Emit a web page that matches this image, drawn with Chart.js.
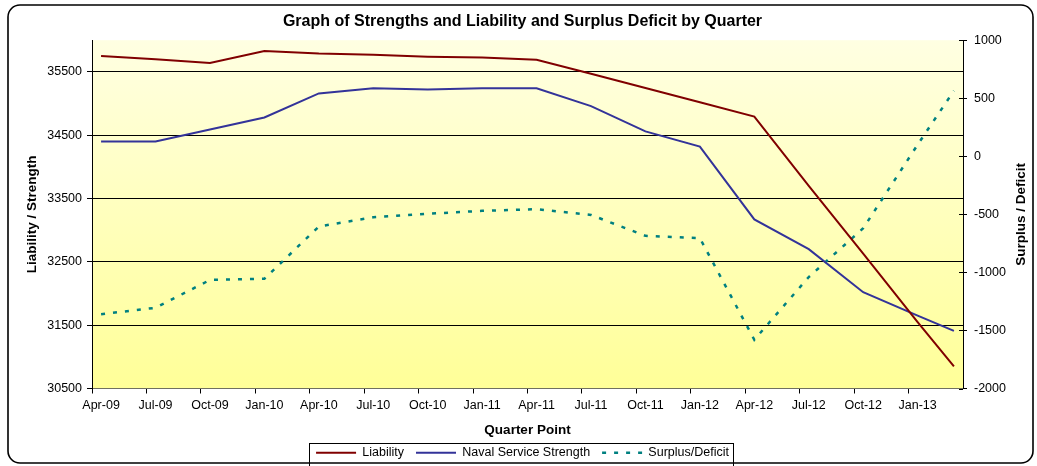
<!DOCTYPE html>
<html>
<head>
<meta charset="utf-8">
<script src="https://cdn.jsdelivr.net/npm/chart.js@4.4.1/dist/chart.umd.min.js"></script>
<style>
  html, body { margin: 0; padding: 0; background: #fff; }
  #wrap { width: 1037px; height: 466px; }
</style>
</head>
<body>
<div id="wrap"><canvas id="chart"></canvas></div>
<script>
// quarter points (last one is Mar-13)
const quarters = ['Apr-09', 'Jul-09', 'Oct-09', 'Jan-10', 'Apr-10', 'Jul-10', 'Oct-10', 'Jan-11',
  'Apr-11', 'Jul-11', 'Oct-11', 'Jan-12', 'Apr-12', 'Jul-12', 'Oct-12', 'Jan-13', 'Mar-13']

const liability = [35750, 35700, 35640, 35830, 35790, 35770, 35740, 35725,
  35690, 35470, 35245, 35020, 34795, 33700, 32630, 31550, 30850]

const navalStrength = [34400, 34400, 34590, 34780, 35160, 35240, 35220, 35240,
  35240, 34960, 34560, 34320, 33170, 32700, 32020, 31650, 31410]

const surplusDeficit = [-1360, -1305, -1065, -1055, -605, -525, -495, -470,
  -455, -505, -685, -705, -1580, -1040, -620, 100, 565]

const leftTicks = [30500, 31500, 32500, 33500, 34500, 35500]

// monthly date axis Apr-09 .. Mar-13, labelled every quarter
const monthNames = ['Jan', 'Feb', 'Mar', 'Apr', 'May', 'Jun', 'Jul', 'Aug', 'Sep', 'Oct', 'Nov', 'Dec']
const months = []
for (let i = 0; i < 48; i++) {
  const m = 3 + i
  months.push(monthNames[m % 12] + '-' + String(9 + Math.floor(m / 12)).padStart(2, '0'))
}

const FONT = 'Liberation Sans, Arial, sans-serif'

function points(arr) {
  return quarters.map((q, i) => ({ x: q, y: arr[i] }))
}

const plain = v => String(v)

const frame = {
  id: 'frame',
  beforeDraw(chart) {
    const { ctx, chartArea: a } = chart
    ctx.save()
    const g = ctx.createLinearGradient(0, a.top, 0, a.bottom)
    g.addColorStop(0, '#FFFFE2')
    g.addColorStop(1, '#FFFF98')
    ctx.fillStyle = g
    ctx.fillRect(a.left, a.top, a.right - a.left, a.bottom - a.top)
    ctx.restore()
  },
  afterDraw(chart) {
    const { ctx, chartArea: a } = chart
    ctx.save()

    // outer rounded border
    ctx.strokeStyle = '#000'
    ctx.lineWidth = 1.6
    ctx.beginPath()
    ctx.roundRect(8, 5, 1025, 458, 12)
    ctx.stroke()

    // right axis title (reads bottom to top)
    ctx.fillStyle = '#000'
    ctx.font = 'bold 13.5px ' + FONT
    ctx.textAlign = 'center'
    ctx.textBaseline = 'middle'
    ctx.translate(1021, (a.top + a.bottom) / 2)
    ctx.rotate(-Math.PI / 2)
    ctx.fillText('Surplus / Deficit', 0, 0)
    ctx.setTransform(1, 0, 0, 1, 0, 0)

    // right axis ticks cross the axis line
    const y2 = chart.scales.y2
    ctx.lineWidth = 1
    ctx.beginPath()
    y2.ticks.forEach(t => {
      const py = Math.round(y2.getPixelForValue(t.value)) + 0.5
      ctx.moveTo(a.right - 4, py)
      ctx.lineTo(a.right, py)
    })
    ctx.stroke()

    // legend box
    const boxes = chart.legend.legendHitBoxes
    if (boxes && boxes.length) {
      const first = boxes[0]
      const last = boxes[boxes.length - 1]
      const x0 = Math.round(first.left - 7) + 0.5
      const x1 = Math.round(last.left + last.width + 4) + 0.5
      const y0 = Math.round(first.top - 4) + 0.5
      ctx.lineWidth = 1
      ctx.strokeRect(x0, y0, x1 - x0, 480 - y0)
    }
    ctx.restore()
  }
}

new Chart(document.getElementById('chart'), {
  type: 'line',
  data: {
    labels: months,
    datasets: [
      {
        label: 'Liability',
        data: points(liability),
        yAxisID: 'y',
        borderColor: '#800000',
        backgroundColor: '#800000',
        borderWidth: 2,
        pointRadius: 0,
        tension: 0
      },
      {
        label: 'Naval Service Strength',
        data: points(navalStrength),
        yAxisID: 'y',
        borderColor: '#333399',
        backgroundColor: '#333399',
        borderWidth: 2,
        pointRadius: 0,
        tension: 0
      },
      {
        label: 'Surplus/Deficit',
        data: points(surplusDeficit),
        yAxisID: 'y2',
        borderColor: '#008080',
        backgroundColor: '#008080',
        borderWidth: 2.5,
        borderDash: [4, 8],
        pointRadius: 0,
        tension: 0
      }
    ]
  },
  options: {
    responsive: true,
    maintainAspectRatio: false,
    animation: false,
    layout: { padding: { left: 8, right: 0, top: 0, bottom: -3 } },
    plugins: {
      title: {
        display: true,
        text: 'Graph of Strengths and Liability and Surplus Deficit by Quarter',
        color: '#000',
        font: { family: FONT, size: 16, weight: 'bold' },
        padding: { top: 12, bottom: 9 }
      },
      legend: {
        position: 'bottom',
        labels: {
          usePointStyle: true,
          pointStyle: 'line',
          pointStyleWidth: 40,
          color: '#000',
          font: { family: FONT, size: 12.5 },
          padding: 12,
          generateLabels(chart) {
            const items = Chart.defaults.plugins.legend.labels.generateLabels(chart)
            items.forEach(it => {
              const ds = chart.data.datasets[it.datasetIndex]
              it.lineDash = ds.borderDash || []
              it.lineWidth = ds.borderWidth
              it.strokeStyle = ds.borderColor
            })
            return items
          }
        }
      },
      tooltip: { enabled: false }
    },
    scales: {
      x: {
        type: 'category',
        offset: true,
        grid: {
          display: true,
          drawOnChartArea: false,
          offset: true,
          tickLength: 5,
          tickColor: ctx => ctx.index % 3 === 0 ? '#000' : 'rgba(0,0,0,0)'
        },
        border: { color: '#707060', width: 1 },
        ticks: {
          autoSkip: false,
          maxRotation: 0,
          padding: 5,
          color: '#000',
          font: { family: FONT, size: 12.5 },
          callback: function (v, i) { return i % 3 === 0 ? this.getLabelForValue(v) : '' }
        },
        title: {
          display: true,
          text: 'Quarter Point',
          color: '#000',
          font: { family: FONT, size: 13.5, weight: 'bold' },
          padding: { top: 0, bottom: -4 }
        },
        afterFit: s => { s.height = 46 }
      },
      y: {
        position: 'left',
        min: 30500,
        max: 36000,
        afterBuildTicks: s => { s.ticks = leftTicks.map(v => ({ value: v })) },
        grid: {
          color: ctx => ctx.tick && ctx.tick.value === 30500 ? 'rgba(0,0,0,0)' : '#000',
          lineWidth: 1,
          tickLength: 5,
          tickColor: '#000'
        },
        border: { color: '#000', width: 1 },
        ticks: { color: '#000', padding: 5, font: { family: FONT, size: 12.5 }, callback: plain },
        title: {
          display: true,
          text: 'Liability / Strength',
          color: '#000',
          font: { family: FONT, size: 13.5, weight: 'bold' },
          padding: { top: 16, bottom: 0 }
        },
        afterFit: s => { s.width = 84 }
      },
      y2: {
        position: 'right',
        min: -2000,
        max: 1000,
        grid: { drawOnChartArea: false, tickLength: 4, tickColor: '#000' },
        border: { color: '#000', width: 1 },
        ticks: { stepSize: 500, color: '#000', padding: 7, font: { family: FONT, size: 12.5 }, callback: plain },
        afterFit: s => { s.width = 74 }
      }
    }
  },
  plugins: [frame]
})
</script>
</body>
</html>
